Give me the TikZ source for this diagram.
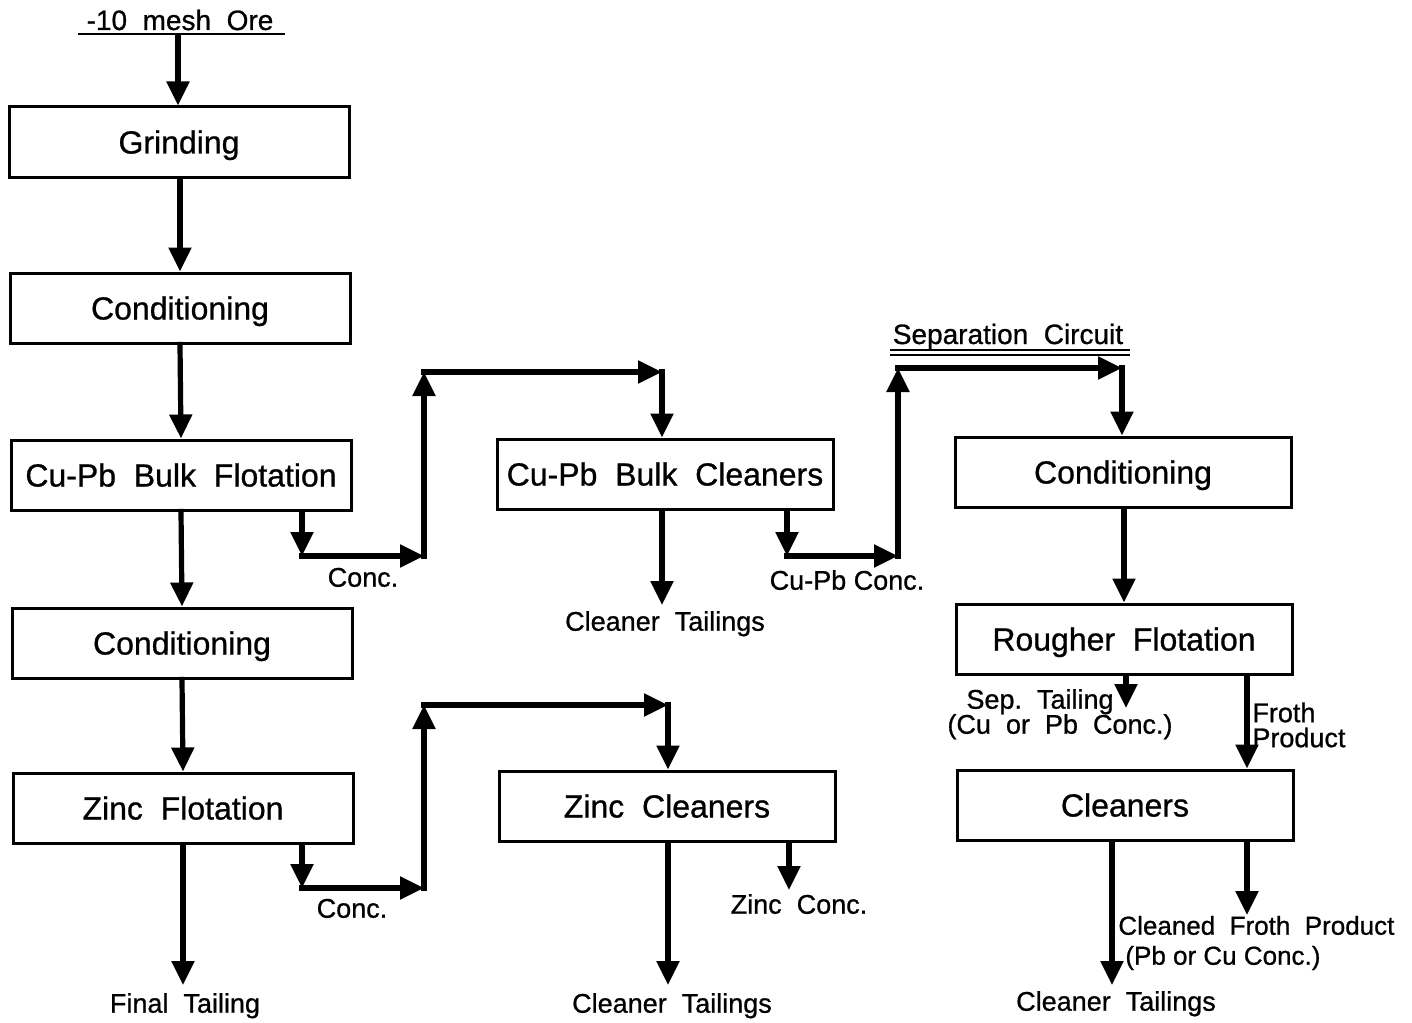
\documentclass[tikz,border=0pt]{standalone}
\usepackage{fontspec}
\setmainfont{Liberation Sans}[FakeBold=0.8]
\usetikzlibrary{arrows.meta}
\begin{document}
\begin{tikzpicture}[x=0.5pt,y=-0.5pt,
  unit box/.style={draw,line width=1.5pt,minimum height=35pt,inner sep=0pt,
    text height=11.5pt,text depth=0pt,font=\fontsize{16}{18}\selectfont},
  left box/.style={unit box,minimum width=170pt},
  right box/.style={unit box,minimum width=168pt},
  flow/.style={line width=2.6pt,line cap=rect,-{Triangle[length=12pt,width=11pt]}},
  lbl/.style={font=\fontsize{13.5}{13.5}\selectfont,inner sep=0pt,text height=9.7pt,text depth=0pt},
  rule/.style={line width=1.4pt}]
\useasboundingbox (0,0) rectangle (1412,1022);

% ---- left column
\node[lbl,font=\fontsize{14}{15}\selectfont,text height=10pt] (ore) at (180,20) {-10\ \ mesh\ \ Ore};
\draw[rule] (78,34) -- (285,34);
\coordinate (oreout) at (178,34);
\node[left box] (grind) at (179,142) {Grinding};
\node[left box] (cond1) at (180,308) {Conditioning};
\node[left box] (bulk) at (181,475) {Cu-Pb\ \ Bulk\ \ Flotation};
\node[left box] (cond2) at (182,643) {Conditioning};
\node[left box] (zinc) at (183,808) {Zinc\ \ Flotation};
\coordinate (ftail) at (183,985);
\node[lbl] (ftaillbl) at (185,1003) {Final\ \ Tailing};

\draw[flow,line cap=butt] (oreout) -- (oreout |- grind.north);
\draw[flow] (grind.south -| cond1) -- (cond1.north);
\draw[flow] (cond1.south) -- (bulk.north);
\draw[flow] (bulk.south) -- (cond2.north);
\draw[flow] (cond2.south) -- (zinc.north);
\draw[flow] (zinc.south) -- (ftail);

% ---- Cu-Pb bulk cleaners
\node[right box] (bcl) at (665,474) {Cu-Pb\ \ Bulk\ \ Cleaners};
\coordinate (c1a) at (302,556);
\coordinate (c1b) at (424,556);
\coordinate (c1c) at (424,372);
\coordinate (c1d) at (662,372);
\draw[flow] (bulk.south -| c1a) -- (c1a);
\draw[flow] (c1a) -- (c1b);
\draw[flow] (c1b) -- (c1c);
\draw[flow] (c1c) -- (c1d);
\draw[flow] (c1d) -- (bcl.north -| c1d);
\node[lbl] (conc1) at (363,577) {Conc.};
\coordinate (bclt) at (662,605);
\draw[flow] (bcl.south -| bclt) -- (bclt);
\node[lbl] (bcltlbl) at (665,621) {Cleaner\ \ Tailings};

% ---- Zinc cleaners
\node[right box] (zcl) at (667,806) {Zinc\ \ Cleaners};
\coordinate (c2a) at (302,888);
\coordinate (c2b) at (424,888);
\coordinate (c2c) at (424,705);
\coordinate (c2d) at (668,705);
\draw[flow] (zinc.south -| c2a) -- (c2a);
\draw[flow] (c2a) -- (c2b);
\draw[flow] (c2b) -- (c2c);
\draw[flow] (c2c) -- (c2d);
\draw[flow] (c2d) -- (zcl.north -| c2d);
\node[lbl] (conc2) at (352,908) {Conc.};
\coordinate (zclt) at (668,985);
\draw[flow] (zcl.south -| zclt) -- (zclt);
\node[lbl] (zcltlbl) at (672,1003) {Cleaner\ \ Tailings};
\coordinate (zconc) at (789,890);
\draw[flow] (zcl.south -| zconc) -- (zconc);
\node[lbl] (zconclbl) at (799,904) {Zinc\ \ Conc.};

% ---- Separation circuit
\node[lbl,font=\fontsize{14}{15}\selectfont,text height=10pt] (sep) at (1008,334) {Separation\ \ Circuit};
\draw[line width=0.9pt] (890,350) -- (1130,350);
\draw[line width=0.9pt] (890,355) -- (1130,355);
\node[right box] (cond3) at (1123,472) {Conditioning};
\node[right box] (rough) at (1124,639) {Rougher\ \ Flotation};
\node[right box] (clean) at (1125,805) {Cleaners};
\coordinate (c3a) at (787,556);
\coordinate (c3b) at (898,556);
\coordinate (c3c) at (898,368);
\coordinate (c3d) at (1122,368);
\draw[flow] (bcl.south -| c3a) -- (c3a);
\draw[flow] (c3a) -- (c3b);
\draw[flow] (c3b) -- (c3c);
\draw[flow] (c3c) -- (c3d);
\draw[flow] (c3d) -- (cond3.north -| c3d);
\node[lbl] (cupbconc) at (847,580) {Cu-Pb Conc.};
\draw[flow] (cond3.south -| rough) -- (rough.north);

\coordinate (septail) at (1126,708);
\draw[flow] (rough.south -| septail) -- (septail);
\node[lbl] (sep1) at (1040,699) {Sep.\ \ Tailing};
\node[lbl] (sep2) at (1060,724) {(Cu\ \ or\ \ Pb\ \ Conc.)};

\coordinate (froth) at (1247,700);
\draw[flow] (rough.south -| froth) -- (clean.north -| froth);
\node[lbl,anchor=west,align=left,text height=,text depth=,font=\fontsize{13.5}{12.5}\selectfont] (frothlbl) at (1252,725) {Froth\\Product};

\coordinate (clt) at (1112,985);
\draw[flow] (clean.south -| clt) -- (clt);
\node[lbl] (cltlbl) at (1116,1001) {Cleaner\ \ Tailings};
\coordinate (cfp) at (1247,915);
\draw[flow] (clean.south -| cfp) -- (cfp);
\node[lbl,anchor=west,align=left,text height=,text depth=,font=\fontsize{13}{15}\selectfont] (cfplbl) at (1118,943)
  {Cleaned\ \ Froth\ \ Product\\\hspace*{3.5pt}(Pb or Cu Conc.)};
\end{tikzpicture}
\end{document}
